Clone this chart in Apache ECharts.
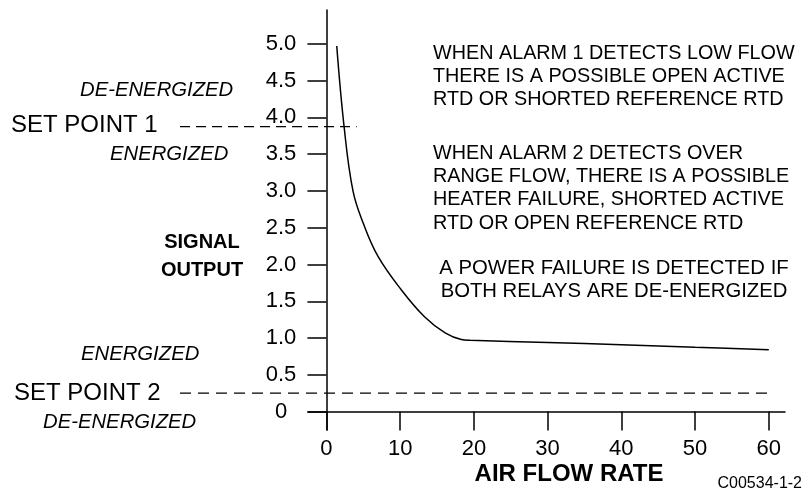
<!DOCTYPE html>
<html>
<head>
<meta charset="utf-8">
<script src="https://cdn.jsdelivr.net/npm/echarts@6/dist/echarts.min.js"></script>
<style>
  html, body { margin: 0; padding: 0; background: #fff; }
  #chart { width: 806px; height: 496px; }
</style>
</head>
<body>
<div id="chart"></div>
<script>
// curve
var flowRate = [1.4, 2.4, 3.6, 5.0, 7.0, 10.2, 13.3, 16.1, 18.3, 19.5, 30, 40, 50, 60];
var signalOut = [4.97, 3.87, 3.0, 2.56, 2.11, 1.65, 1.29, 1.07, 0.98, 0.97, 0.94, 0.91, 0.875, 0.84];

var xTicks = [0, 10, 20, 30, 40, 50, 60];
var yTicks = [0, 0.5, 1.0, 1.5, 2.0, 2.5, 3.0, 3.5, 4.0, 4.5, 5.0];

var setPoint1 = 3.875;
var setPoint2 = 0.25;

var notes1 = ['WHEN ALARM 1 DETECTS LOW FLOW', 'THERE IS A POSSIBLE OPEN ACTIVE', 'RTD OR SHORTED REFERENCE RTD'];
var notes2 = ['WHEN ALARM 2 DETECTS OVER', 'RANGE FLOW, THERE IS A POSSIBLE', 'HEATER FAILURE, SHORTED ACTIVE', 'RTD OR OPEN REFERENCE RTD'];
var notes3 = ['A POWER FAILURE IS DETECTED IF', 'BOTH RELAYS ARE DE-ENERGIZED'];

var font = 'Liberation Sans, Arial, sans-serif';
var chart = echarts.init(document.getElementById('chart'));

var pts = [];
for (var i = 0; i < flowRate.length; i++) pts.push([flowRate[i], signalOut[i]]);

chart.setOption({
    animation: false,
    grid: { left: 308, right: 21, top: 10, bottom: 66 },
    xAxis: {
        type: 'value',
        min: -2.5,
        max: 62.2,
        splitLine: { show: false },
        axisLine: { onZero: true, lineStyle: { color: '#000', width: 1.5 } },
        axisTick: { show: true, length: 19, customValues: xTicks, lineStyle: { color: '#000', width: 1.5 } },
        axisLabel: {
            customValues: xTicks, margin: 19, verticalAlign: 'middle',
            color: '#000', fontSize: 22, fontFamily: font
        }
    },
    yAxis: {
        type: 'value',
        min: -0.25,
        max: 5.46,
        splitLine: { show: false },
        axisLine: { onZero: true, lineStyle: { color: '#000', width: 1.5 } },
        axisTick: { show: true, length: 19, customValues: yTicks, lineStyle: { color: '#000', width: 1.5 } },
        axisLabel: {
            customValues: yTicks, margin: 27, align: 'center',
            color: '#000', fontSize: 22, fontFamily: font,
            formatter: function (v) { return v === 0 ? '0' : v.toFixed(1); }
        }
    },
    series: [{
        type: 'line',
        data: pts,
        smooth: 0.4,
        showSymbol: false,
        lineStyle: { color: '#000', width: 1.5 }
    }]
});

// annotations placed around the axes
function txt(x, y, text, opt) {
    var s = { text: text, fill: '#000', fontSize: 20.3, fontFamily: font, textAlign: 'left', textVerticalAlign: 'middle' };
    for (var k in opt) s[k] = opt[k];
    return { type: 'text', x: x, y: y, style: s };
}

var p1a = chart.convertToPixel({ gridIndex: 0 }, [4.1, setPoint1]);
var p2a = chart.convertToPixel({ gridIndex: 0 }, [60, setPoint2]);

var g = [];
g.push({ type: 'line', shape: { x1: 180, y1: p1a[1], x2: p1a[0], y2: p1a[1] },
    style: { stroke: '#000', lineWidth: 1.3, lineDash: [10, 6] } });
g.push({ type: 'line', shape: { x1: 180, y1: p2a[1], x2: p2a[0], y2: p2a[1] },
    style: { stroke: '#000', lineWidth: 1.3, lineDash: [11, 7] } });

g.push(txt(80, 90, 'DE-ENERGIZED', { fontStyle: 'italic' }));
g.push(txt(11, p1a[1] - 1, 'SET POINT 1', { fontSize: 24 }));
g.push(txt(110, 154, 'ENERGIZED', { fontStyle: 'italic' }));
g.push(txt(81, 354, 'ENERGIZED', { fontStyle: 'italic' }));
g.push(txt(14, p2a[1], 'SET POINT 2', { fontSize: 24 }));
g.push(txt(43, 422, 'DE-ENERGIZED', { fontStyle: 'italic' }));

g.push(txt(202, 242, 'SIGNAL', { fontWeight: 'bold', fontSize: 20, textAlign: 'center' }));
g.push(txt(202, 270, 'OUTPUT', { fontWeight: 'bold', fontSize: 20, textAlign: 'center' }));
g.push(txt(569, 474, 'AIR FLOW RATE', { fontWeight: 'bold', fontSize: 24, textAlign: 'center' }));
g.push(txt(802, 484, 'C00534-1-2', { fontSize: 16, textAlign: 'right' }));

g.push(txt(433, 41.5, notes1.join('\n'), { fontSize: 19.8, lineHeight: 23.3, textVerticalAlign: 'top' }));
g.push(txt(433, 141.5, notes2.join('\n'), { fontSize: 19.8, lineHeight: 23.3, textVerticalAlign: 'top' }));
g.push(txt(614, 256.5, notes3.join('\n'), { lineHeight: 23.3, textVerticalAlign: 'top', textAlign: 'center' }));

chart.setOption({ graphic: g });
</script>
</body>
</html>
